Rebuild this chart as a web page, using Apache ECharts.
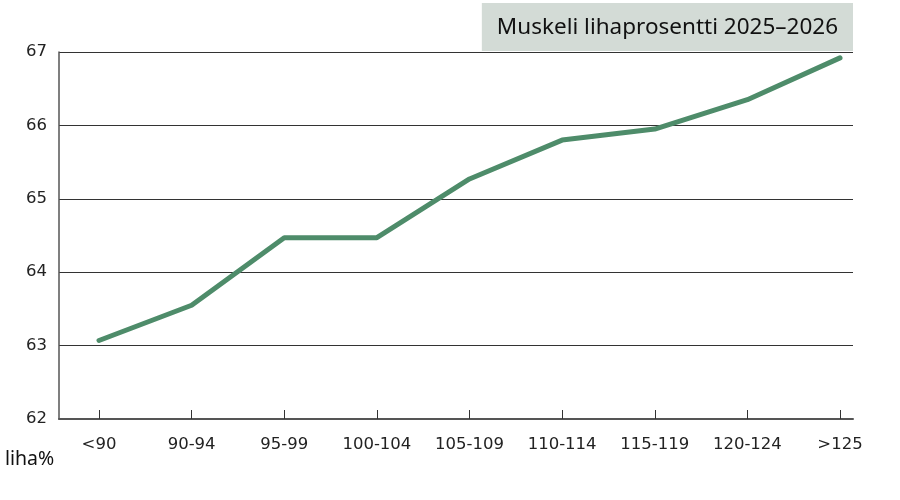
<!DOCTYPE html>
<html>
<head>
<meta charset="utf-8">
<script src="https://cdn.jsdelivr.net/npm/echarts@6/dist/echarts.min.js"></script>
<style>html,body{margin:0;padding:0;background:#fff;}#c{width:900px;height:500px;}</style>
</head>
<body>
<div id="c"></div>
<script>
const categories = ['<90', '90-94', '95-99', '100-104', '105-109', '110-114', '115-119', '120-124', '>125'];
const values = [63.07, 63.55, 64.47, 64.47, 65.27, 65.80, 65.95, 66.35, 66.92];
const titleText = 'Muskeli lihaprosentti 2025\u20132026';
const yUnit = 'liha%';

const chart = echarts.init(document.getElementById('c'));
chart.setOption({
  backgroundColor: '#ffffff',
  animation: false,
  title: {
    text: titleText,
    right: 47,
    top: 3,
    backgroundColor: '#d3dbd6',
    padding: [12, 15, 10, 15],
    textStyle: { fontFamily: 'Noto Sans', fontSize: 22.5, fontWeight: 'normal', color: '#111', lineHeight: 26 }
  },
  graphic: [{
    type: 'text', left: 5, top: 449,
    style: { text: yUnit, font: '19.5px "Noto Sans"', fill: '#111' }
  }],
  grid: [
    { left: 59, right: 47, top: 52, bottom: 81 },
    { left: 99, right: 60, top: 52, bottom: 81 }
  ],
  xAxis: [
    { gridIndex: 0, type: 'value', min: 0, max: 1,
      axisLine: { show: true, lineStyle: { color: '#555', width: 2 } },
      axisTick: { show: false }, axisLabel: { show: false }, splitLine: { show: false } },
    { gridIndex: 1, type: 'category', data: categories, boundaryGap: false,
      axisLine: { show: false },
      axisTick: { show: true, inside: true, length: 9, lineStyle: { color: '#333', width: 1 } },
      axisLabel: { margin: 17, fontFamily: 'DejaVu Sans', fontSize: 16.5, color: '#222' },
      splitLine: { show: false } }
  ],
  yAxis: [
    { gridIndex: 0, type: 'value', min: 62, max: 67, interval: 1,
      axisLine: { show: true, lineStyle: { color: '#555', width: 1.5 } },
      axisTick: { show: false },
      axisLabel: { margin: 12, fontFamily: 'DejaVu Sans', fontSize: 16.5, color: '#222' },
      splitLine: { show: true, lineStyle: { color: '#333', width: 1 } } },
    { gridIndex: 1, type: 'value', min: 62, max: 67, interval: 1, show: false }
  ],
  series: [{
    type: 'line', xAxisIndex: 1, yAxisIndex: 1, data: values,
    symbol: 'none',
    lineStyle: { color: '#4e8c6a', width: 5, cap: 'round', join: 'round' }
  }]
});
</script>
</body>
</html>
